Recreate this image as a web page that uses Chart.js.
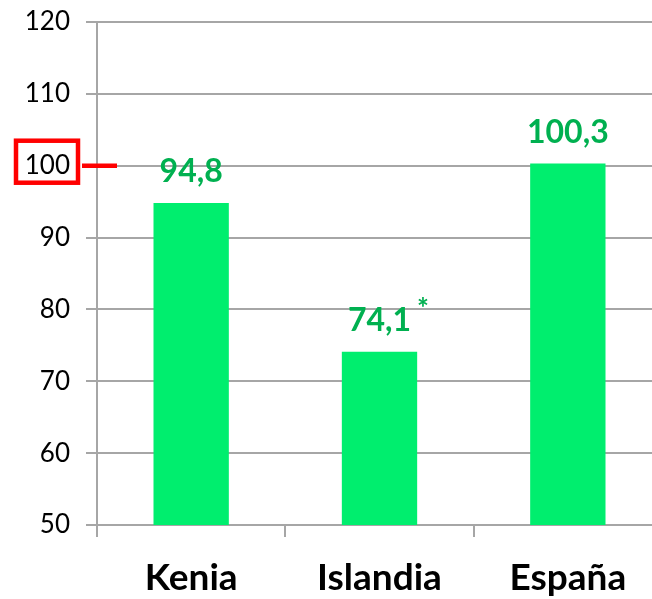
<!DOCTYPE html>
<html lang="es">
<head>
<meta charset="UTF-8">
<title>Chart</title>
<style>
  body { margin: 0; overflow: hidden; background: #fff; }
  #wrap { width: 662px; height: 599px; }
</style>
</head>
<body>
<div id="wrap"><canvas id="myChart" width="662" height="599"></canvas></div>
<script src="https://cdn.jsdelivr.net/npm/chart.js"></script>
<script>
const paises = ['Kenia', 'Islandia', 'España']
const valores = [94.8, 74.1, 100.3]
const notas = ['', '*', '']
const ticksY = [50, 60, 70, 80, 90, 100, 110, 120]
const marcado = 100

const verde = '#00EE6E'
const verdeTexto = '#00B050'
const gris = '#A6A6A6'
const rojo = '#FF0000'

const fmt = v => v.toFixed(1).replace('.', ',')

// etiquetas de valor sobre cada barra + marca roja en el eje
const extras = {
  id: 'extras',
  afterDraw(chart) {
    const ctx = chart.ctx
    const meta = chart.getDatasetMeta(0)
    ctx.save()
    ctx.fillStyle = verdeTexto
    ctx.textBaseline = 'alphabetic'
    meta.data.forEach((bar, i) => {
      const txt = fmt(valores[i])
      const y = bar.y - 21
      ctx.font = 'bold 32px Lato'
      ctx.textAlign = 'center'
      ctx.fillText(txt, bar.x, y)
      if (notas[i]) {
        const w = ctx.measureText(txt).width
        ctx.font = 'bold 28px Lato'
        ctx.textAlign = 'left'
        ctx.fillText(notas[i], bar.x + w / 2 + 6, y - 13)
      }
    })
    const yy = chart.scales.y.getPixelForValue(marcado)
    ctx.strokeStyle = rojo
    ctx.lineWidth = 4.5
    ctx.strokeRect(16, yy - 25, 62, 42)
    ctx.beginPath()
    ctx.moveTo(82, yy)
    ctx.lineTo(117, yy)
    ctx.stroke()
    ctx.restore()
  }
}

new Chart(document.getElementById('myChart'), {
  type: 'bar',
  data: {
    labels: paises,
    datasets: [{
      data: valores,
      backgroundColor: verde,
      borderWidth: 0,
      categoryPercentage: 1,
      barPercentage: 0.4
    }]
  },
  options: {
    responsive: false,
    animation: false,
    devicePixelRatio: 1,
    layout: { padding: { top: 22, right: 0, left: 0, bottom: 0 } },
    plugins: { legend: { display: false }, tooltip: { enabled: false } },
    scales: {
      x: {
        offset: true,
        grid: { offset: true, drawOnChartArea: false, drawTicks: true, tickLength: 12, color: gris, lineWidth: 2 },
        border: { display: true, color: gris, width: 2 },
        ticks: { color: '#000', font: { family: 'Lato', size: 37, weight: 'bold' }, padding: 19 },
        afterFit: s => { s.height = 74; s.paddingLeft = 0; s.paddingRight = 0 }
      },
      y: {
        min: 50,
        max: 120,
        afterBuildTicks: s => { s.ticks = ticksY.map(v => ({ value: v })) },
        grid: { color: gris, lineWidth: 2, tickLength: 11 },
        border: { display: true, color: gris, width: 2 },
        ticks: { color: '#000', font: { family: 'Lato', size: 26 }, padding: 16 },
        afterFit: s => { s.width = 97; s.paddingTop = 0; s.paddingBottom = 0 }
      }
    }
  },
  plugins: [extras]
})
</script>
</body>
</html>
